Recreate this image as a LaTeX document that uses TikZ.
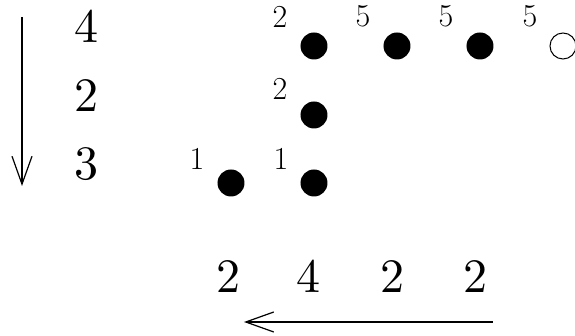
\documentclass[tikz,border=0pt]{standalone}
\usepackage{fontspec}
\newfontfamily\lmten{lmroman10-regular.otf}
\usetikzlibrary{arrows.meta}
\begin{document}
\begin{tikzpicture}[x=0.5pt,y=-0.5pt,
  dot/.style={circle,fill=black,inner sep=0pt,minimum size=13.5pt},
  odot/.style={circle,draw=black,line width=0.5pt,fill=white,inner sep=0pt,minimum size=13pt},
  big/.style={inner sep=0pt,anchor=base,font=\lmten\fontsize{24}{24}\selectfont},
  lab/.style={inner sep=0pt,anchor=base,font=\fontsize{16}{16}\selectfont},
  arr/.style={line width=0.6pt,-{Straight Barb[length=14pt,width=10pt,line width=0.6pt]}}]
\useasboundingbox (0,0) rectangle (575,336);
% left column numbers
\node[big] (r1) at (87,43) {4};
\node[big] (r2) at (87,112) {2};
\node[big] (r3) at (87,180) {3};
% dots
\node[dot] (d11) at (314,46) {};
\node[dot] (d12) at (397,46) {};
\node[dot] (d13) at (480,46) {};
\node[odot] (d14) at (563,46) {};
\node[dot] (d21) at (314,115) {};
\node[dot] (d30) at (231,183) {};
\node[dot] (d31) at (314,183) {};
% small labels
\node[lab] (l11) at (280,28) {2};
\node[lab] (l12) at (363,27) {5};
\node[lab] (l13) at (446,27) {5};
\node[lab] (l14) at (530,27) {5};
\node[lab] (l21) at (280,100) {2};
\node[lab] (l30) at (197,170) {1};
\node[lab] (l31) at (281,170) {1};
% bottom numbers
\node[big] (c1) at (229,293) {2};
\node[big] (c2) at (309,293) {4};
\node[big] (c3) at (392,293) {2};
\node[big] (c4) at (476,293) {2};
% arrows
\coordinate (a1) at (22,17);
\coordinate (a2) at (22,186);
\draw[arr] (a1) -- (a2);
\coordinate (b1) at (493,322);
\coordinate (b2) at (244,322);
\draw[arr] (b1) -- (b2);
\end{tikzpicture}
\end{document}
